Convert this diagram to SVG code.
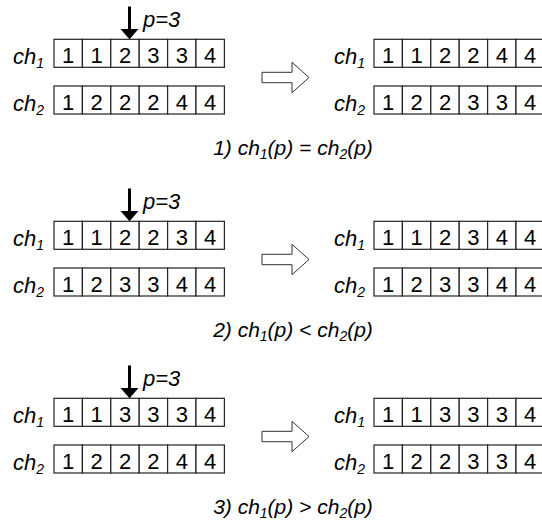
<svg xmlns="http://www.w3.org/2000/svg" width="542" height="522" viewBox="0 0 542 522">
<defs>
<style>
text{font-family:"Liberation Sans",Arial,sans-serif;fill:#000}
.c{fill:#fff;stroke:#222;stroke-width:1.2}
.d{font-size:22px;text-anchor:middle}
.l{font-size:22px;font-style:italic}
.s{font-size:14px}
.cap{font-size:21px;font-style:italic;text-anchor:middle}
.ha{fill:#fff;stroke:#333;stroke-width:1}
.va{stroke:#000;stroke-width:3;fill:none}
</style>
<g id="cells">
<rect class="c" x="0" y="0" width="28.4" height="28"/>
<rect class="c" x="28.4" y="0" width="28.4" height="28"/>
<rect class="c" x="56.8" y="0" width="28.4" height="28"/>
<rect class="c" x="85.2" y="0" width="28.4" height="28"/>
<rect class="c" x="113.6" y="0" width="28.4" height="28"/>
<rect class="c" x="142" y="0" width="28.4" height="28"/>
</g>
<polygon id="hollow" class="ha" points="262,72.3 292,72.3 292,62.3 309,77.5 292,92.7 292,82.7 262,82.7"/>
</defs>

<!-- Section 1 -->
<g id="s1">
<g id="s1-L1" transform="translate(54,39.3)">
<use href="#cells"/>
<text class="d" y="24"><tspan x="14.2">1</tspan><tspan x="42.6">1</tspan><tspan x="71">2</tspan><tspan x="99.4">3</tspan><tspan x="127.8">3</tspan><tspan x="156.2">4</tspan></text>
</g>
<text class="l" x="13" y="64">ch<tspan class="s" dy="4">1</tspan></text>
<g id="s1-L2" transform="translate(54,86)">
<use href="#cells"/>
<text class="d" y="24"><tspan x="14.2">1</tspan><tspan x="42.6">2</tspan><tspan x="71">2</tspan><tspan x="99.4">2</tspan><tspan x="127.8">4</tspan><tspan x="156.2">4</tspan></text>
</g>
<text class="l" x="13" y="110.7">ch<tspan class="s" dy="4">2</tspan></text>
<g id="s1-R1" transform="translate(374,39.3)">
<use href="#cells"/>
<text class="d" y="24"><tspan x="14.2">1</tspan><tspan x="42.6">1</tspan><tspan x="71">2</tspan><tspan x="99.4">2</tspan><tspan x="127.8">4</tspan><tspan x="156.2">4</tspan></text>
</g>
<text class="l" x="334" y="64">ch<tspan class="s" dy="4">1</tspan></text>
<g id="s1-R2" transform="translate(374,86)">
<use href="#cells"/>
<text class="d" y="24"><tspan x="14.2">1</tspan><tspan x="42.6">2</tspan><tspan x="71">2</tspan><tspan x="99.4">3</tspan><tspan x="127.8">3</tspan><tspan x="156.2">4</tspan></text>
</g>
<text class="l" x="334" y="110.7">ch<tspan class="s" dy="4">2</tspan></text>
<text class="l" x="143" y="27">p=3</text>
<text class="cap" x="293" y="155">1) ch<tspan class="s" dy="4">1</tspan><tspan dy="-4">(p) = ch</tspan><tspan class="s" dy="4">2</tspan><tspan dy="-4">(p)</tspan></text>
</g>

<!-- Section 2 -->
<g id="s2" transform="translate(0,182)">
<g id="s2-L1" transform="translate(54,39.3)">
<use href="#cells"/>
<text class="d" y="24"><tspan x="14.2">1</tspan><tspan x="42.6">1</tspan><tspan x="71">2</tspan><tspan x="99.4">2</tspan><tspan x="127.8">3</tspan><tspan x="156.2">4</tspan></text>
</g>
<text class="l" x="13" y="64">ch<tspan class="s" dy="4">1</tspan></text>
<g id="s2-L2" transform="translate(54,86)">
<use href="#cells"/>
<text class="d" y="24"><tspan x="14.2">1</tspan><tspan x="42.6">2</tspan><tspan x="71">3</tspan><tspan x="99.4">3</tspan><tspan x="127.8">4</tspan><tspan x="156.2">4</tspan></text>
</g>
<text class="l" x="13" y="110.7">ch<tspan class="s" dy="4">2</tspan></text>
<g id="s2-R1" transform="translate(374,39.3)">
<use href="#cells"/>
<text class="d" y="24"><tspan x="14.2">1</tspan><tspan x="42.6">1</tspan><tspan x="71">2</tspan><tspan x="99.4">3</tspan><tspan x="127.8">4</tspan><tspan x="156.2">4</tspan></text>
</g>
<text class="l" x="334" y="64">ch<tspan class="s" dy="4">1</tspan></text>
<g id="s2-R2" transform="translate(374,86)">
<use href="#cells"/>
<text class="d" y="24"><tspan x="14.2">1</tspan><tspan x="42.6">2</tspan><tspan x="71">3</tspan><tspan x="99.4">3</tspan><tspan x="127.8">4</tspan><tspan x="156.2">4</tspan></text>
</g>
<text class="l" x="334" y="110.7">ch<tspan class="s" dy="4">2</tspan></text>
<text class="l" x="143" y="27">p=3</text>
<text class="cap" x="293" y="155">2) ch<tspan class="s" dy="4">1</tspan><tspan dy="-4">(p) &lt; ch</tspan><tspan class="s" dy="4">2</tspan><tspan dy="-4">(p)</tspan></text>
</g>

<!-- Section 3 -->
<g id="s3" transform="translate(0,359)">
<g id="s3-L1" transform="translate(54,39.3)">
<use href="#cells"/>
<text class="d" y="24"><tspan x="14.2">1</tspan><tspan x="42.6">1</tspan><tspan x="71">3</tspan><tspan x="99.4">3</tspan><tspan x="127.8">3</tspan><tspan x="156.2">4</tspan></text>
</g>
<text class="l" x="13" y="64">ch<tspan class="s" dy="4">1</tspan></text>
<g id="s3-L2" transform="translate(54,86)">
<use href="#cells"/>
<text class="d" y="24"><tspan x="14.2">1</tspan><tspan x="42.6">2</tspan><tspan x="71">2</tspan><tspan x="99.4">2</tspan><tspan x="127.8">4</tspan><tspan x="156.2">4</tspan></text>
</g>
<text class="l" x="13" y="110.7">ch<tspan class="s" dy="4">2</tspan></text>
<g id="s3-R1" transform="translate(374,39.3)">
<use href="#cells"/>
<text class="d" y="24"><tspan x="14.2">1</tspan><tspan x="42.6">1</tspan><tspan x="71">3</tspan><tspan x="99.4">3</tspan><tspan x="127.8">3</tspan><tspan x="156.2">4</tspan></text>
</g>
<text class="l" x="334" y="64">ch<tspan class="s" dy="4">1</tspan></text>
<g id="s3-R2" transform="translate(374,86)">
<use href="#cells"/>
<text class="d" y="24"><tspan x="14.2">1</tspan><tspan x="42.6">2</tspan><tspan x="71">2</tspan><tspan x="99.4">3</tspan><tspan x="127.8">3</tspan><tspan x="156.2">4</tspan></text>
</g>
<text class="l" x="334" y="110.7">ch<tspan class="s" dy="4">2</tspan></text>
<text class="l" x="143" y="27">p=3</text>
<text class="cap" x="293" y="155">3) ch<tspan class="s" dy="4">1</tspan><tspan dy="-4">(p) &gt; ch</tspan><tspan class="s" dy="4">2</tspan><tspan dy="-4">(p)</tspan></text>
</g>

<!-- Connectors -->
<g id="connectors">
<g id="pointer1">
<line class="va" x1="129.5" y1="6.5" x2="129.5" y2="30"/>
<polygon points="120.5,29 138.5,29 129.5,39.3" fill="#000"/>
</g>
<g id="pointer2" transform="translate(0,182)">
<line class="va" x1="129.5" y1="6.5" x2="129.5" y2="30"/>
<polygon points="120.5,29 138.5,29 129.5,39.3" fill="#000"/>
</g>
<g id="pointer3" transform="translate(0,359)">
<line class="va" x1="129.5" y1="6.5" x2="129.5" y2="30"/>
<polygon points="120.5,29 138.5,29 129.5,39.3" fill="#000"/>
</g>
<use href="#hollow"/>
<use href="#hollow" transform="translate(0,182)"/>
<use href="#hollow" transform="translate(0,359)"/>
</g>
</svg>
